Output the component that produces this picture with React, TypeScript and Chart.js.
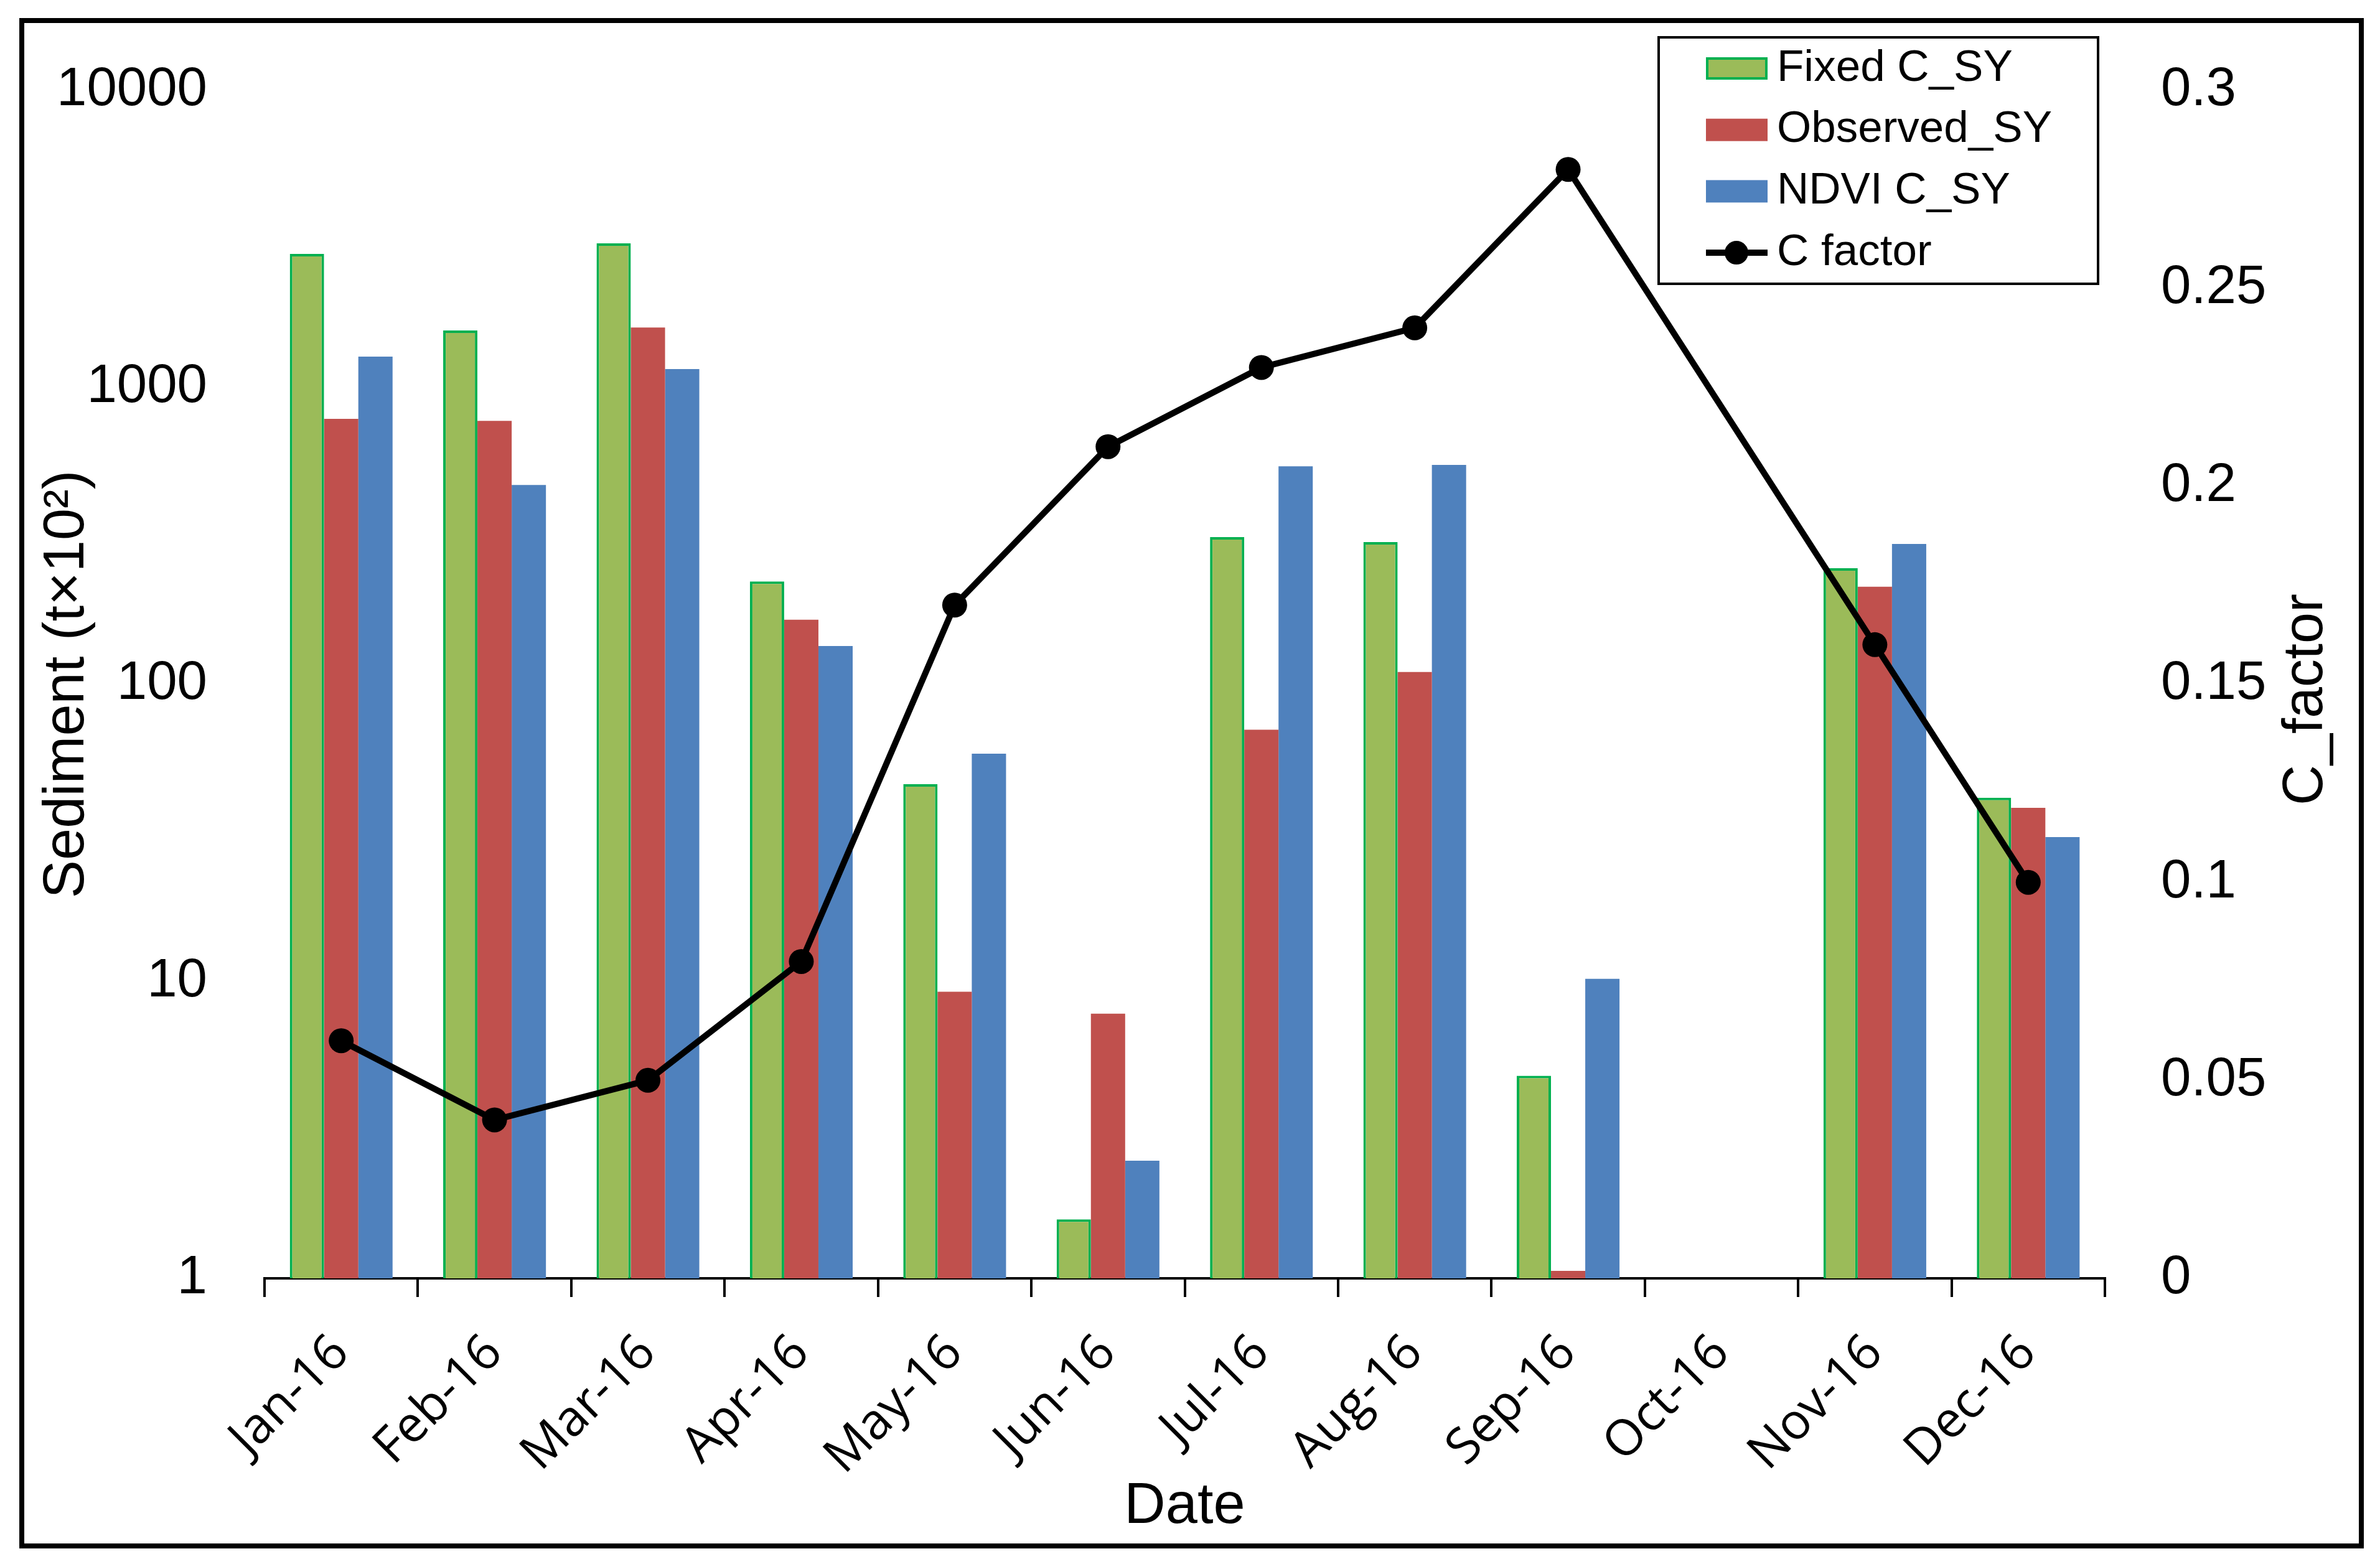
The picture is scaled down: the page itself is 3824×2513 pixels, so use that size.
import React, { useEffect, useRef } from "react";
import { Chart, registerables } from "chart.js";

Chart.register(...registerables);

const categories = ["Jan-16", "Feb-16", "Mar-16", "Apr-16", "May-16", "Jun-16", "Jul-16", "Aug-16", "Sep-16", "Oct-16", "Nov-16", "Dec-16"];
const fixedCSY = [2812, 1553, 3052, 222, 46.1, 1.58, 313, 301, 4.81, null, 246, 41.5];
const observedSY = [783, 771, 1589, 165, 9.22, 7.78, 70.3, 110, 1.06, null, 213, 38.4];
const ndviCSY = [1268, 469, 1151, 134.6, 58.4, 2.49, 542, 548, 10.2, null, 297, 30.6];
const cFactor = [0.06, 0.04, 0.05, 0.08, 0.17, 0.21, 0.23, 0.24, 0.28, null, 0.16, 0.1];
const sedimentTicks = [1, 10, 100, 1000, 10000];
const cFactorTicks = [0, 0.05, 0.1, 0.15, 0.2, 0.25, 0.3];

const ARIAL = '"Liberation Sans", Arial, sans-serif';
const XFONT = '"Open Sans", "Liberation Sans", sans-serif';

const decorPlugin = {
  id: "decor",
  beforeDraw(chart: any) {
    const ctx = chart.ctx;
    ctx.save();
    ctx.fillStyle = "#ffffff";
    ctx.fillRect(0, 0, chart.width, chart.height);
    ctx.restore();
  },
  afterDraw(chart: any) {
    const ctx = chart.ctx;
    ctx.save();
    // outer frame
    ctx.strokeStyle = "#000";
    ctx.lineWidth = 8;
    ctx.strokeRect(35, 33, 3794 - 35, 2484 - 33);

    // right axis title (reads bottom to top)
    ctx.save();
    ctx.translate(3706, 1124);
    ctx.rotate(-Math.PI / 2);
    ctx.fillStyle = "#000";
    ctx.font = `90px ${ARIAL}`;
    ctx.textAlign = "center";
    ctx.textBaseline = "middle";
    ctx.fillText("C_factor", 0, 0);
    ctx.restore();

    // legend
    ctx.fillStyle = "#fff";
    ctx.fillRect(2665, 60, 706, 396);
    ctx.strokeStyle = "#000";
    ctx.lineWidth = 4;
    ctx.strokeRect(2665, 60, 706, 396);
    const ds = chart.data.datasets;
    ds.forEach((d: any, i: number) => {
      const cy = 110 + i * 98.7;
      if (d.type === "line") {
        ctx.strokeStyle = d.borderColor;
        ctx.lineWidth = 10;
        ctx.beginPath();
        ctx.moveTo(2741, cy);
        ctx.lineTo(2840, cy);
        ctx.stroke();
        ctx.fillStyle = d.pointBackgroundColor;
        ctx.beginPath();
        ctx.arc(2790, cy, 19, 0, Math.PI * 2);
        ctx.fill();
      } else {
        ctx.fillStyle = d.backgroundColor;
        ctx.fillRect(2741, cy - 18, 99, 36);
        if (d.borderWidth) {
          ctx.strokeStyle = d.borderColor;
          ctx.lineWidth = 4;
          ctx.strokeRect(2743, cy - 16, 95, 32);
        }
      }
      ctx.fillStyle = "#000";
      ctx.font = `71px ${ARIAL}`;
      ctx.textAlign = "left";
      ctx.textBaseline = "middle";
      ctx.fillText(d.label, 2855, cy);
    });
    ctx.restore();
  },
};

export default function App() {
  const ref = useRef<HTMLCanvasElement>(null);
  useEffect(() => {
    const canvas = ref.current;
    if (!canvas) return;
    const chart = new Chart(canvas, {
      type: "bar",
      data: {
        labels: categories,
        datasets: [
          {
            label: "Fixed C_SY",
            data: fixedCSY,
            backgroundColor: "#9BBB59",
            borderColor: "#00B050",
            borderWidth: 4,
            yAxisID: "y",
            order: 1,
          } as any,
          {
            label: "Observed_SY",
            data: observedSY,
            backgroundColor: "#C0504D",
            borderWidth: 0,
            yAxisID: "y",
            order: 1,
          },
          {
            label: "NDVI C_SY",
            data: ndviCSY,
            backgroundColor: "#4F81BD",
            borderWidth: 0,
            yAxisID: "y",
            order: 1,
          },
          {
            type: "line",
            label: "C factor",
            data: cFactor,
            yAxisID: "y1",
            borderColor: "#000",
            backgroundColor: "#000",
            borderWidth: 10,
            pointRadius: 20,
            pointBackgroundColor: "#000",
            pointBorderColor: "#000",
            pointBorderWidth: 0,
            tension: 0,
            spanGaps: true,
            order: 0,
          } as any,
        ],
      },
      options: {
        responsive: false,
        maintainAspectRatio: false,
        devicePixelRatio: 1,
        animation: false,
        layout: { padding: { top: 145, left: 0, right: 0, bottom: 0 } },
        datasets: {
          bar: { categoryPercentage: 0.67, barPercentage: 1.0 },
        },
        plugins: {
          legend: { display: false },
          tooltip: { enabled: false },
        },
        scales: {
          x: {
            type: "category",
            offset: true,
            grid: {
              display: true,
              offset: true,
              drawOnChartArea: false,
              drawTicks: true,
              tickLength: 30,
              color: "#000",
              lineWidth: 4,
            },
            border: { display: true, color: "#000", width: 4 },
            ticks: {
              font: { family: XFONT, size: 80 },
              color: "#000",
              minRotation: 45,
              maxRotation: 45,
              padding: 43,
              labelOffset: 0,
              autoSkip: false,
            },
            title: {
              display: true,
              text: "Date",
              color: "#000",
              font: { family: ARIAL, size: 92 },
              padding: { top: 0, bottom: 36 },
            },
            afterFit: (s: any) => {
              s.height = 459;
            },
          },
          y: {
            type: "logarithmic",
            position: "left",
            min: 1,
            max: 10000,
            grid: { display: false },
            border: { display: false },
            ticks: {
              font: { family: ARIAL, size: 87 },
              color: "#000",
              padding: 84,
              callback: (v: any) => String(v),
            },
            afterBuildTicks: (s: any) => {
              s.ticks = sedimentTicks.map((v) => ({ value: v }));
            },
            title: {
              display: true,
              text: "Sediment (t×10²)",
              color: "#000",
              font: { family: ARIAL, size: 92 },
              padding: { top: 53, bottom: 0 },
            },
            afterFit: (s: any) => {
              s.width = 425;
            },
          },
          y1: {
            type: "linear",
            position: "right",
            min: 0,
            max: 0.3,
            grid: { display: false },
            border: { display: false },
            ticks: {
              font: { family: ARIAL, size: 87 },
              color: "#000",
              padding: 82,
              callback: (v: any) => String(Number(Number(v).toFixed(2))),
            },
            afterBuildTicks: (s: any) => {
              s.ticks = cFactorTicks.map((v) => ({ value: v }));
            },
            afterFit: (s: any) => {
              s.width = 442;
            },
          },
        },
      } as any,
      plugins: [decorPlugin],
    });
    return () => chart.destroy();
  }, []);

  return (
    <canvas
      ref={ref}
      width={3824}
      height={2513}
      style={{ position: "absolute", left: 0, top: 0, width: "3824px", height: "2513px", display: "block" }}
    />
  );
}
